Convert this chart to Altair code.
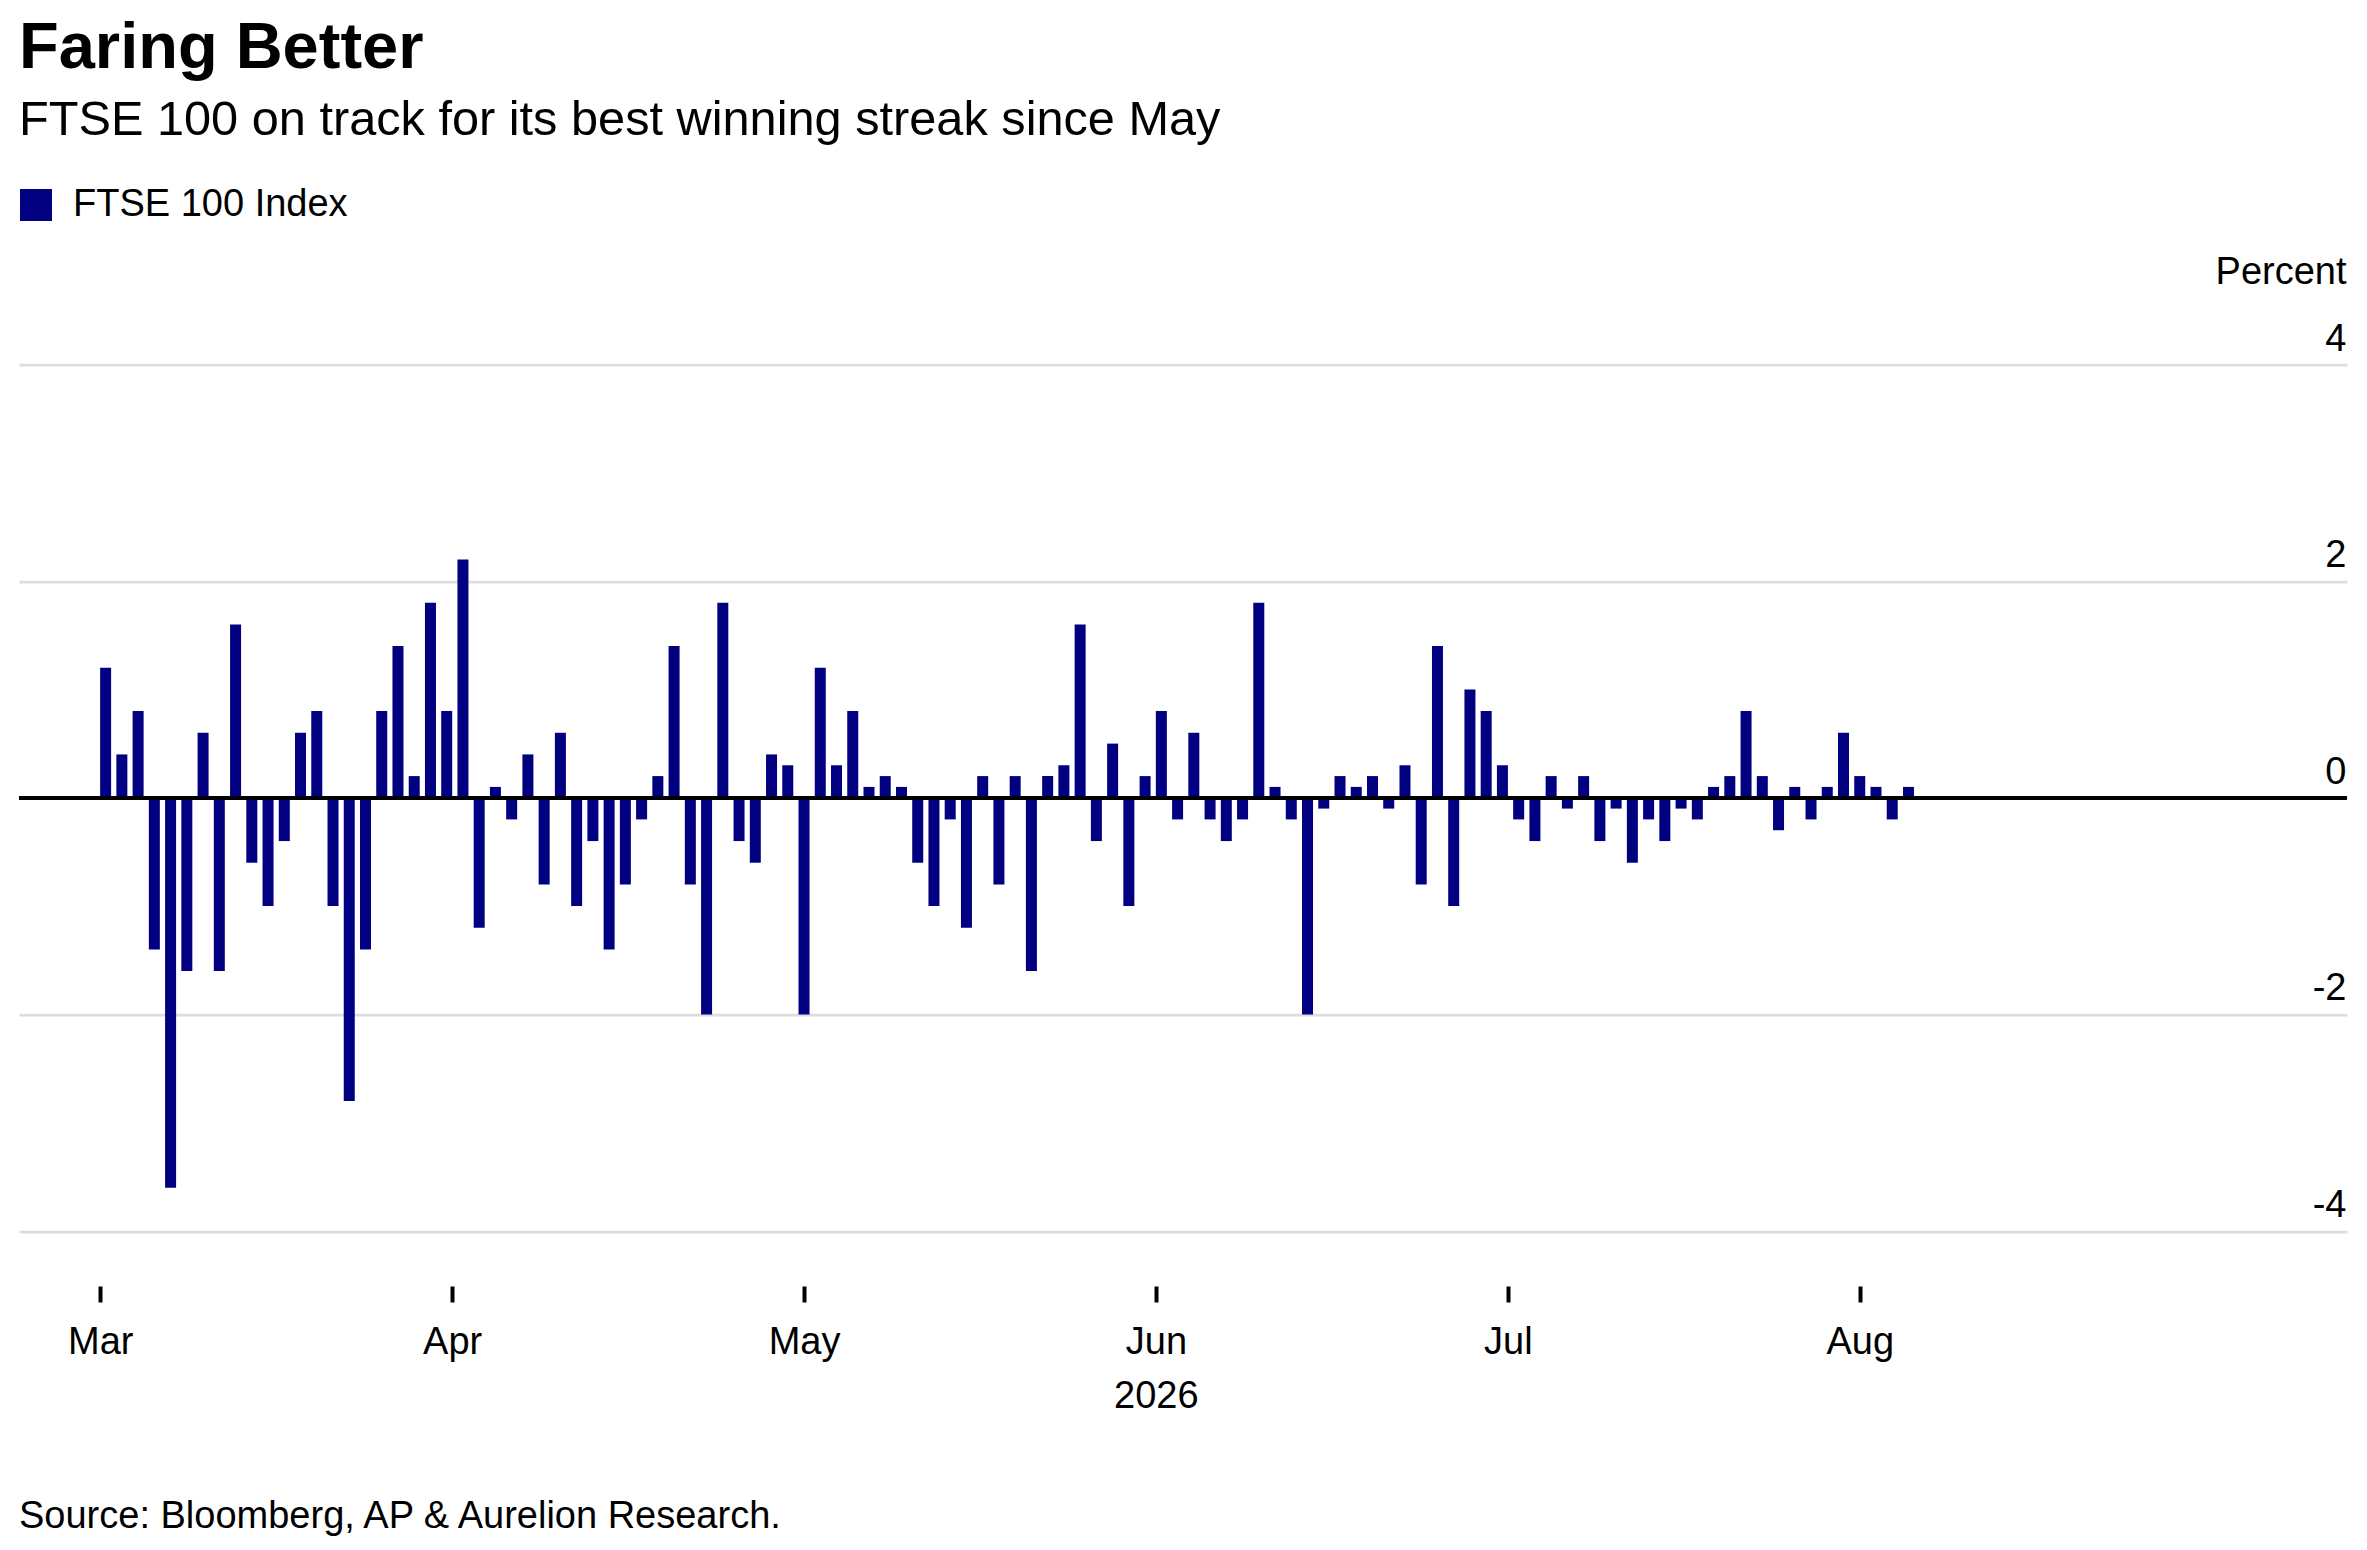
import altair as alt
import pandas as pd

# ---- text ----
TITLE = "Faring Better"
SUBTITLE = "FTSE 100 on track for its best winning streak since May"
SERIES = "FTSE 100 Index"
SOURCE = "Source: Bloomberg, AP & Aurelion Research."
Y_TITLE = "Percent"
YEAR = "2026"
MONTHS = ["Mar", "Apr", "May", "Jun", "Jul", "Aug"]
Y_TICKS = [-4, -2, 0, 2, 4]

# ---- data: daily % change, trading days from 2 Mar 2026 ----
START = "2026-03-02"
CHANGES = [
    1.2, 0.4, 0.8, -1.4, -3.6, -1.6, 0.6, -1.6, 1.6, -0.6, -1.0, -0.4, 0.6, 0.8, -1.0, -2.8, -1.4, 0.8, 1.4, 0.2, 1.8, 0.8,
    2.2, -1.2, 0.1, -0.2, 0.4, -0.8, 0.6, -1.0, -0.4, -1.4, -0.8, -0.2, 0.2, 1.4, -0.8, -2.0, 1.8, -0.4, -0.6, 0.4, 0.3,
    -2.0, 1.2, 0.3, 0.8, 0.1, 0.2, 0.1, -0.6, -1.0, -0.2, -1.2, 0.2, -0.8, 0.2, -1.6, 0.2, 0.3, 1.6, -0.4, 0.5, -1.0,
    0.2, 0.8, -0.2, 0.6, -0.2, -0.4, -0.2, 1.8, 0.1, -0.2, -2.0, -0.1, 0.2, 0.1, 0.2, -0.1, 0.3, -0.8, 1.4, -1.0, 1.0,
    0.8, 0.3, -0.2, -0.4, 0.2,
    -0.1, 0.2, -0.4, -0.1, -0.6, -0.2, -0.4, -0.1, -0.2, 0.1, 0.2, 0.8, 0.2, -0.3, 0.1, -0.2, 0.1, 0.6, 0.2, 0.1, -0.2, 0.1,
]

df = pd.DataFrame({
    "date": pd.bdate_range(START, periods=len(CHANGES)).strftime("%Y-%m-%d"),
    "change": CHANGES,
    "series": SERIES,
})
df["day"] = range(len(df))

FONT = "Liberation Sans"
NAVY = "#000080"
W, H = 2328, 866.5
FS = 38

# months are evenly spaced on the trading-day axis (65/3 trading days each)
tick_vals = [(65 * k - 1) / 3 for k in range(len(MONTHS))]
month_expr = "[" + ",".join(f"'{m}'" for m in MONTHS) + "][round((datum.value*3+1)/65)]"

x_scale = alt.Scale(domain=[-16 / 3, 138], nice=False, zero=False, padding=0)
y_scale = alt.Scale(domain=[-4, 4], nice=False, padding=0)

x_axis = alt.Axis(
    values=tick_vals, labelExpr=month_expr, title=YEAR, orient="bottom", offset=55,
    domain=False, grid=False, ticks=True, tickSize=16, tickWidth=4, tickColor="black",
    labelPadding=21, labelFontSize=FS, labelFont=FONT, labelColor="black", labelFlush=False,
    titleFont=FONT, titleFontSize=FS, titleFontWeight="normal", titleColor="black",
    titleX=1136.8, titleY=121.3, titleBaseline="alphabetic", titleAlign="center",
)
y_axis = alt.Axis(
    values=Y_TICKS, orient="right", title=Y_TITLE, grid=True, gridColor="#dddddd", gridWidth=2.75,
    domain=False, ticks=False, labelAlign="right", labelBaseline="alphabetic", labelPadding=-1,
    labelOffset=-14.5, labelFontSize=FS, labelFont=FONT, labelColor="black", labelExpr="datum.value + ''",
    titleAngle=0, titleAlign="right", titleBaseline="alphabetic", titleX=-1, titleY=-81.5,
    titleFont=FONT, titleFontSize=FS, titleFontWeight="normal", titleColor="black",
)

bars = alt.Chart(df).mark_bar(size=11).encode(
    x=alt.X("day:Q", scale=x_scale, axis=x_axis),
    y=alt.Y("change:Q", scale=y_scale, axis=y_axis),
    color=alt.Color(
        "series:N", scale=alt.Scale(range=[NAVY]),
        legend=alt.Legend(
            orient="none", legendX=-2, legendY=-178.5, title=None, padding=0,
            symbolType="square", symbolSize=1024, symbolStrokeWidth=0, symbolOpacity=1,
            labelFontSize=FS, labelFont=FONT, labelColor="black", labelOffset=18,
            labelBaseline="middle", labelLimit=1000,
        ),
    ),
    tooltip=["date:N", "change:Q"],
)

zero = alt.Chart(df).mark_rule(color="black", strokeWidth=3.5).encode(y=alt.datum(0))

src = alt.Chart(pd.DataFrame({"t": [SOURCE]})).mark_text(
    align="left", baseline="alphabetic", fontSize=FS, font=FONT, color="black"
).encode(text="t:N", x=alt.value(0), y=alt.value(1528 - 364.5))

chart = alt.layer(bars, zero, src).properties(
    width=W, height=H,
    title=alt.Title(
        TITLE, subtitle=SUBTITLE, anchor="start", frame="group",
        font=FONT, fontSize=65, fontWeight="bold", color="black",
        subtitleFont=FONT, subtitleFontSize=48.7, subtitleColor="black", subtitlePadding=14.7, offset=40.3,
    ),
    autosize=alt.AutoSizeParams(type="none"),
    padding={"left": 11, "right": 12, "top": 356.5, "bottom": 308},
).configure(font=FONT, view=alt.ViewConfig(stroke=None))

chart.save("out.html", embed_options={"renderer": "svg", "actions": False})
